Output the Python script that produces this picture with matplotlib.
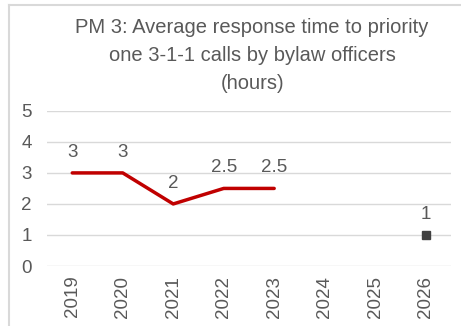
import matplotlib.pyplot as plt
from matplotlib.lines import Line2D

plt.rcParams['font.family'] = ['Liberation Sans', 'DejaVu Sans']

years = ["2019", "2020", "2021", "2022", "2023", "2024", "2025", "2026"]
actual_years = ["2019", "2020", "2021", "2022", "2023"]
actual_hours = [3, 3, 2, 2.5, 2.5]
target_years = ["2026"]
target_hours = [1]

grey_text = "#595959"

fig = plt.figure(figsize=(4.61, 3.26), dpi=100)
ax = fig.add_axes([0.102, 0.184, 0.876, 0.476])

xpos = {y: i for i, y in enumerate(years)}
ax.plot([xpos[y] for y in actual_years], actual_hours, color="#c00000", lw=2.5,
        solid_capstyle="round", zorder=3)
ax.plot([xpos[y] for y in target_years], target_hours, ls="none", marker="s",
        ms=5.5, color="#404040", zorder=3)

for y, v in list(zip(actual_years, actual_hours)) + list(zip(target_years, target_hours)):
    ax.annotate(f"{v:g}", (xpos[y], v), xytext=(0, 15), textcoords="offset points",
                ha="center", va="center", fontsize=13.5, color=grey_text)

ax.set_xlim(-0.5, len(years) - 0.5)
ax.set_ylim(0, 5)
ax.set_yticks(range(6))
ax.set_xticks(range(len(years)))
ax.set_xticklabels(years, rotation=90)
ax.tick_params(axis="both", length=0, labelsize=13.5, colors=grey_text)
ax.tick_params(axis="y", pad=11)
ax.tick_params(axis="x", pad=7)
ax.grid(axis="y", color="#d9d9d9", lw=1)
ax.set_axisbelow(True)
for s in ax.spines.values():
    s.set_visible(False)

fig.text(0.547, 0.944, "PM 3: Average response time to priority\none 3-1-1 calls by bylaw officers\n(hours)",
         ha="center", va="top", multialignment="center", fontsize=14.5,
         color=grey_text, linespacing=1.58)

# chart frame (left and top edges)
fig.add_artist(Line2D([0.019, 0.019], [0, 0.986], color="#d9d9d9", lw=1.5))
fig.add_artist(Line2D([0.019, 1], [0.986, 0.986], color="#d9d9d9", lw=1.5))

fig.savefig("out.png", dpi=100)
